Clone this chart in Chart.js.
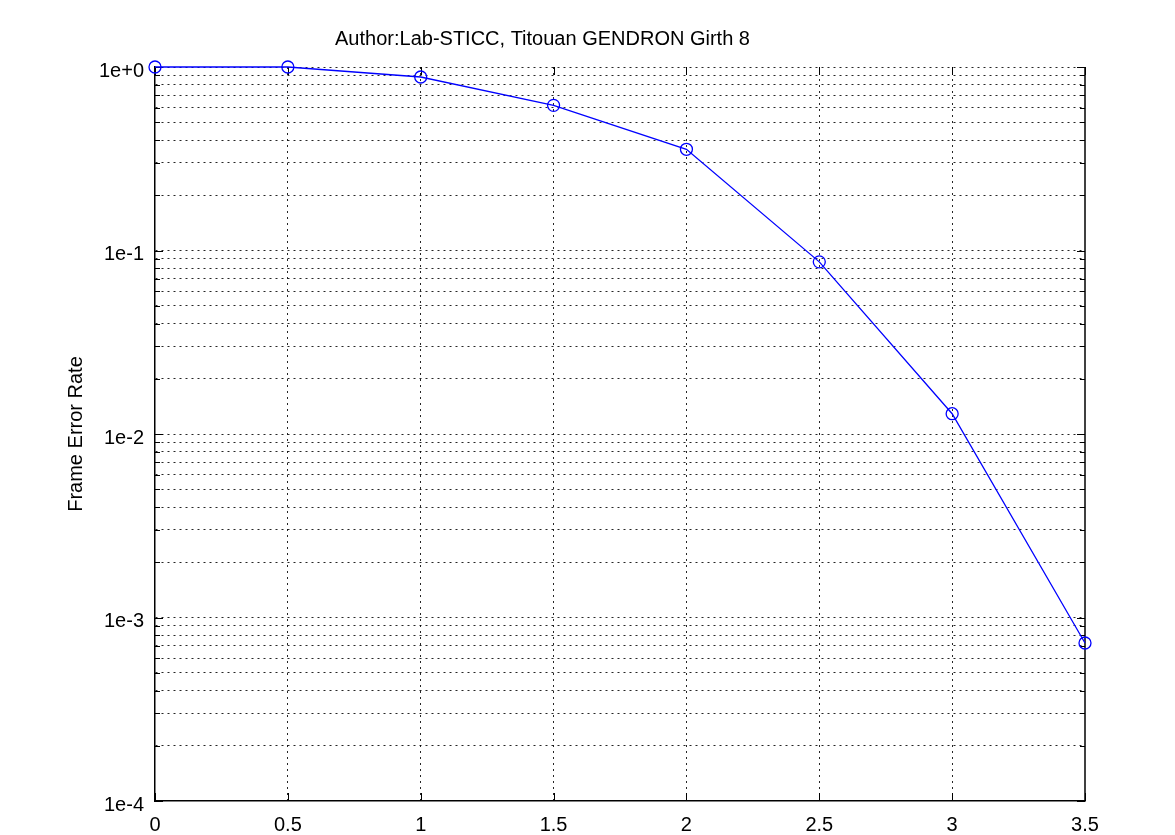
<!DOCTYPE html>
<html>
<head>
<meta charset="utf-8">
<script src="https://cdn.jsdelivr.net/npm/chart.js@4/dist/chart.umd.min.js"></script>
<style>
html,body{margin:0;padding:0;background:#fff;}
#wrap{width:1175px;height:835px;}
</style>
</head>
<body>
<div id="wrap"><canvas id="c" width="1175" height="835"></canvas></div>
<script>
// ---- data ----
const snrValues = [0, 0.5, 1, 1.5, 2, 2.5, 3, 3.5];
const ferValues = [1.0, 1.0, 0.882, 0.618, 0.356, 0.0867, 0.0129, 0.000726];
const xTickValues = [0, 0.5, 1, 1.5, 2, 2.5, 3, 3.5];
const yDecades = [1e-4, 1e-3, 1e-2, 1e-1, 1e0];
const yTickLabels = ['1e-4', '1e-3', '1e-2', '1e-1', '1e+0'];
const titleText = 'Author:Lab-STICC, Titouan GENDRON Girth 8';
const yTitle = 'Frame Error Rate';

const FONT = "'Liberation Sans', Arial, Helvetica, sans-serif";

// full log tick set (1..9 x each decade)
const yTickValues = [];
for (let i = 0; i < yDecades.length - 1; i++) {
  for (let m = 1; m <= 9; m++) yTickValues.push(yDecades[i] * m);
}
yTickValues.push(yDecades[yDecades.length - 1]);

function decadeLabel(v) {
  for (let i = 0; i < yDecades.length; i++) {
    if (Math.abs(v - yDecades[i]) / yDecades[i] < 1e-6) return yTickLabels[i];
  }
  return '';
}
function isDecade(v) { return decadeLabel(v) !== ''; }

const frameTicks = {
  id: 'frameTicks',
  beforeDatasetsDraw(chart) {
    const {ctx, chartArea: a, scales: {x, y}} = chart;
    ctx.save();
    ctx.strokeStyle = '#000';
    ctx.lineWidth = 1;
    ctx.setLineDash([]);
    ctx.beginPath();
    y.ticks.forEach(t => {
      const py = Math.round(y.getPixelForValue(t.value)) + 0.5;
      const len = isDecade(t.value) ? 8 : 5;
      ctx.moveTo(a.left, py); ctx.lineTo(a.left + len, py);
      ctx.moveTo(a.right, py); ctx.lineTo(a.right - len, py);
    });
    x.ticks.forEach(t => {
      const px = Math.round(x.getPixelForValue(t.value)) + 0.5;
      ctx.moveTo(px, a.bottom); ctx.lineTo(px, a.bottom - 8);
      ctx.moveTo(px, a.top); ctx.lineTo(px, a.top + 8);
    });
    ctx.stroke();
    // right frame line
    ctx.lineWidth = 1.5;
    ctx.beginPath();
    ctx.moveTo(a.right, a.top);
    ctx.lineTo(a.right, a.bottom);
    ctx.stroke();
    ctx.restore();
  }
};

new Chart(document.getElementById('c'), {
  type: 'line',
  data: {
    datasets: [{
      data: snrValues.map((s, i) => ({x: s, y: ferValues[i]})),
      borderColor: '#0000ff',
      borderWidth: 1.3,
      pointRadius: 6,
      pointHoverRadius: 6,
      pointStyle: 'circle',
      pointBackgroundColor: 'rgba(0,0,0,0)',
      pointBorderColor: '#0000ff',
      pointBorderWidth: 1.3,
      tension: 0,
      fill: false,
      clip: false
    }]
  },
  plugins: [frameTicks],
  options: {
    responsive: false,
    animation: false,
    devicePixelRatio: 1,
    layout: {padding: {left: 0, top: 0, right: 90, bottom: 0}},
    plugins: {
      legend: {display: false},
      tooltip: {enabled: false},
      title: {
        display: true,
        text: titleText,
        color: '#000',
        font: {family: FONT, size: 20, weight: 'normal', lineHeight: 1.2},
        padding: {top: 27, bottom: 16}
      }
    },
    scales: {
      x: {
        type: 'linear',
        min: 0,
        max: 3.5,
        afterBuildTicks: s => { s.ticks = xTickValues.map(v => ({value: v})); },
        afterFit: s => { s.height = 34; },
        ticks: {
          color: '#000',
          font: {family: FONT, size: 20, lineHeight: 1.2},
          padding: 12,
          maxRotation: 0,
          autoSkip: false,
          callback: v => String(v)
        },
        grid: {
          color: ctx => (ctx.tick && (ctx.tick.value === 0 || ctx.tick.value === 3.5)) ? 'rgba(0,0,0,0)' : 'rgba(0,0,0,0.85)',
          lineWidth: 1,
          drawTicks: false
        },
        border: {display: true, color: '#000', width: 1.5, dash: [2, 4]}
      },
      y: {
        type: 'logarithmic',
        min: 1e-4,
        max: 1,
        afterBuildTicks: s => { s.ticks = yTickValues.map(v => ({value: v})); },
        afterFit: s => { s.width = 155; },
        ticks: {
          color: '#000',
          font: {family: FONT, size: 20, lineHeight: 1.2},
          padding: 11,
          labelOffset: 4,
          autoSkip: false,
          callback: v => decadeLabel(v)
        },
        grid: {
          color: ctx => (ctx.tick && Math.abs(ctx.tick.value - 1e-4) < 1e-9) ? 'rgba(0,0,0,0)' : 'rgba(0,0,0,0.85)',
          lineWidth: 1,
          drawTicks: false
        },
        border: {display: true, color: '#000', width: 1.5, dash: [2, 4]},
        title: {
          display: true,
          text: yTitle,
          color: '#000',
          font: {family: FONT, size: 20, lineHeight: 1.2},
          padding: {top: 64, bottom: 0}
        }
      }
    }
  }
});
</script>
</body>
</html>
